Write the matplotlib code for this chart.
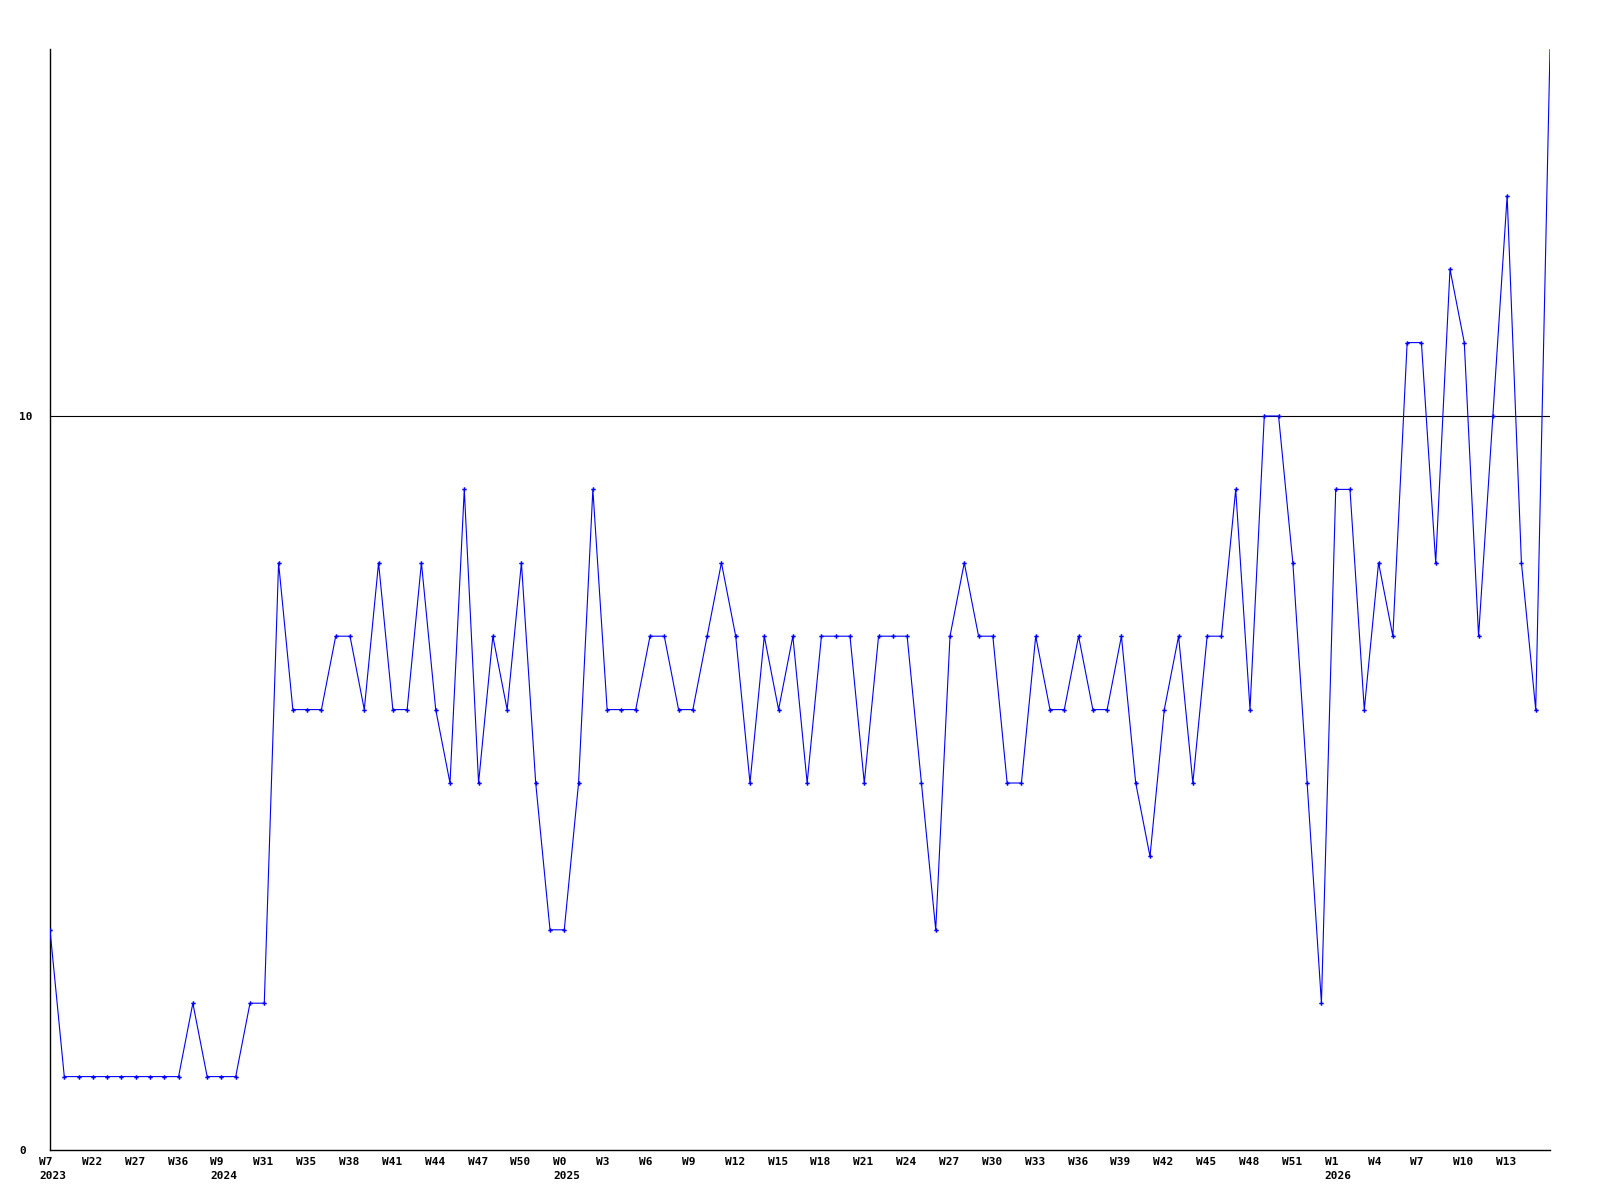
import matplotlib
matplotlib.use("Agg")
import matplotlib.pyplot as plt
import matplotlib.transforms as mtransforms

# weekly counts
values = [
    3, 1, 1, 1, 1, 1, 1, 1, 1, 1,
    2, 1, 1, 1, 2, 2, 8, 6, 6, 6,
    7, 7, 6, 8, 6, 6, 8, 6, 5, 9,
    5, 7, 6, 8, 5, 3, 3, 5, 9, 6,
    6, 6, 7, 7, 6, 6, 7, 8, 7, 5,
    7, 6, 7, 5, 7, 7, 7, 5, 7, 7,
    7, 5, 3, 7, 8, 7, 7, 5, 5, 7,
    6, 6, 7, 6, 6, 7, 5, 4, 6, 7,
    5, 7, 7, 9, 6, 10, 10, 8, 5, 2,
    9, 9, 6, 8, 7, 11, 11, 8, 12, 11,
    7, 10, 13, 8, 6, 15,
]

# labels every third point
week_labels = ["W7", "W22", "W27", "W36", "W9", "W31", "W35", "W38", "W41",
               "W44", "W47", "W50", "W0", "W3", "W6", "W9", "W12", "W15",
               "W18", "W21", "W24", "W27", "W30", "W33", "W36", "W39", "W42",
               "W45", "W48", "W51", "W1", "W4", "W7", "W10", "W13"]
year_labels = {0: "2023", 12: "2024", 36: "2025", 90: "2026"}
y_ticks = [0, 10]

font = dict(family="DejaVu Sans Mono", weight="bold", size=8)

fig = plt.figure(figsize=(16, 12), dpi=100)
ax = fig.add_axes([50 / 1600, 50 / 1200, 1500 / 1600, 1101 / 1200])

x = list(range(len(values)))
# last point sits on the top edge, no marker there in the original
ax.plot(x, values, color="#0000ff", linewidth=0.8, marker="P",
        markersize=3.2, markeredgewidth=0, markevery=slice(0, len(values) - 1),
        zorder=3)

# reference line at 10
ax.axhline(10, color="black", linewidth=0.8, zorder=2)

ax.set_xlim(0, len(values) - 1)
ax.set_ylim(0, 15)

for s in ["top", "right"]:
    ax.spines[s].set_visible(False)
for s in ["left", "bottom"]:
    ax.spines[s].set_linewidth(1.0)

ax.set_xticks([])
ax.set_yticks(y_ticks)
ax.set_yticklabels([str(t) for t in y_ticks], ha="left", **font)
ax.tick_params(axis="y", length=0, pad=22)

# x labels: left aligned a bit left of each tick, year underneath
offset = mtransforms.ScaledTranslation(-11 / 100, 0, fig.dpi_scale_trans)
trans = mtransforms.blended_transform_factory(ax.transData, ax.transAxes) + offset
for i, lab in enumerate(week_labels):
    pos = i * 3
    ax.text(pos, -0.006, lab, transform=trans, ha="left", va="top", **font)
    if pos in year_labels:
        ax.text(pos, -0.019, year_labels[pos], transform=trans,
                ha="left", va="top", **font)

fig.savefig("out.png", dpi=100)
